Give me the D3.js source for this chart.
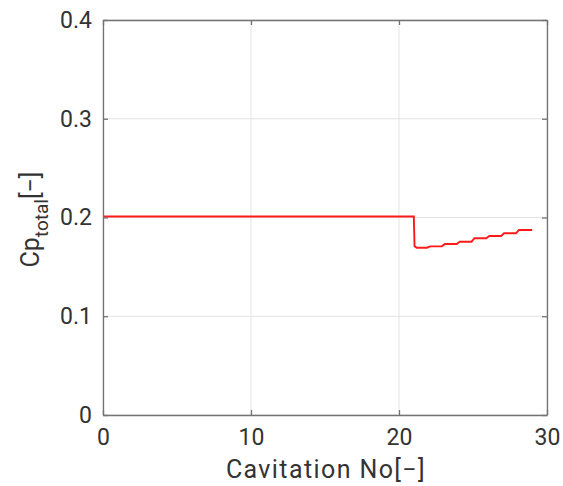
<!DOCTYPE html>
<html>
<head>
<meta charset="utf-8">
<script src="https://cdn.jsdelivr.net/npm/d3@7"></script>
<style>
  body { margin: 0; background: #fff; }
  svg { font-family: Roboto, "Noto Sans", sans-serif; }
</style>
</head>
<body>
<div id="chart"></div>
<script>
// Cp_total vs cavitation number
const cavNo   = [0, 21.0, 21.05, 21.2, 21.9, 22.1, 22.9, 23.1, 23.9, 24.1, 24.9, 25.1, 25.9, 26.1, 26.9, 27.1, 27.9, 28.1, 29.0];
const cpTotal = [0.201, 0.201, 0.171, 0.1694, 0.1694, 0.1708, 0.1708, 0.1732, 0.1732, 0.1755, 0.1755, 0.179, 0.179, 0.1813, 0.1813, 0.184, 0.184, 0.1873, 0.1873];
const xTicks = [0, 10, 20, 30];
const yTicks = [0, 0.1, 0.2, 0.3, 0.4];

const width = 563, height = 486;
const margin = {top: 20, right: 16, bottom: 71, left: 103};

const svg = d3.select('#chart').append('svg')
  .attr('width', width)
  .attr('height', height);

const x = d3.scaleLinear().domain([0, 30]).range([margin.left, width - margin.right]);
const y = d3.scaleLinear().domain([0, 0.4]).range([height - margin.bottom, margin.top]);

// grid
svg.append('g')
  .selectAll('line')
  .data(xTicks)
  .join('line')
  .attr('x1', d => x(d)).attr('x2', d => x(d))
  .attr('y1', y(0)).attr('y2', y(0.4))
  .attr('stroke', '#e3e3e3').attr('stroke-width', 1);
svg.append('g')
  .selectAll('line')
  .data(yTicks)
  .join('line')
  .attr('y1', d => y(d)).attr('y2', d => y(d))
  .attr('x1', x(0)).attr('x2', x(30))
  .attr('stroke', '#e3e3e3').attr('stroke-width', 1);

// data line
const pts = cavNo.map((c, i) => [c, cpTotal[i]]);
svg.append('path')
  .datum(pts)
  .attr('fill', 'none')
  .attr('stroke', '#ff1a1a')
  .attr('stroke-width', 1.9)
  .attr('d', d3.line().x(d => x(d[0])).y(d => y(d[1])));

// axes (ticks inside, MATLAB style)
const axColor = '#737373';
const xAxis = svg.append('g')
  .attr('transform', `translate(0,${y(0)})`)
  .call(d3.axisBottom(x).tickValues(xTicks).tickSizeInner(-5).tickSizeOuter(0).tickPadding(14).tickFormat(d3.format('d')));
const yAxis = svg.append('g')
  .attr('transform', `translate(${x(0)},0)`)
  .call(d3.axisLeft(y).tickValues(yTicks).tickSizeInner(-5).tickSizeOuter(0).tickPadding(11).tickFormat(d => d === 0 ? '0' : d3.format('.1f')(d)));
// opposite ticks
svg.append('g')
  .attr('transform', `translate(0,${y(0.4)})`)
  .call(d3.axisTop(x).tickValues(xTicks).tickSizeInner(-5).tickSizeOuter(0).tickFormat(''));
svg.append('g')
  .attr('transform', `translate(${x(30)},0)`)
  .call(d3.axisRight(y).tickValues(yTicks).tickSizeInner(-5).tickSizeOuter(0).tickFormat(''));

svg.selectAll('.domain, .tick line').attr('stroke', axColor).attr('stroke-width', 1.3);
svg.selectAll('.tick text').attr('fill', '#333').attr('font-size', 23).attr('font-family', 'Roboto, sans-serif');
xAxis.selectAll('.tick text').attr('dy', '0.71em');

// axis labels
svg.append('text')
  .attr('x', (x(0) + x(30)) / 2 + 1)
  .attr('y', 478)
  .attr('text-anchor', 'middle')
  .attr('fill', '#333')
  .attr('font-size', 25)
  .attr('letter-spacing', 1.4)
  .text('Cavitation No[−]');

const yl = svg.append('text')
  .attr('transform', `translate(39,${(y(0) + y(0.4)) / 2 + 2}) rotate(-90)`)
  .attr('text-anchor', 'middle')
  .attr('fill', '#333')
  .attr('font-size', 25);
yl.append('tspan').text('Cp');
yl.append('tspan').attr('font-size', 19).attr('dy', 9).text('total');
yl.append('tspan').attr('dy', -9).text('[−]');
</script>
</body>
</html>
